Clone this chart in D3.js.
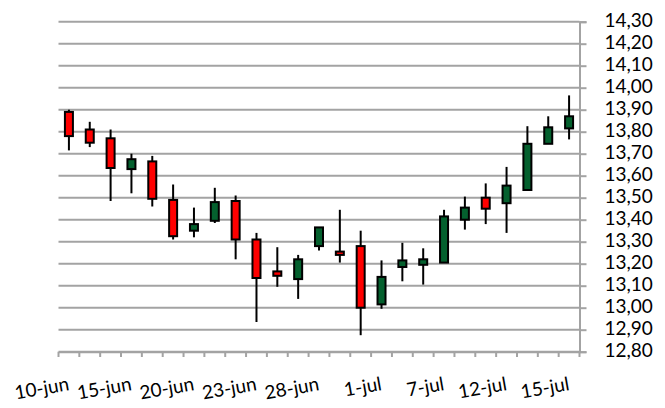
<!DOCTYPE html>
<html>
<head>
<meta charset="utf-8">
<script src="https://cdn.jsdelivr.net/npm/d3@7"></script>
<style>
  html, body { margin: 0; padding: 0; background: #fff; }
  text { font-family: Lato, "Open Sans", sans-serif; fill: #000; }
</style>
</head>
<body>
<div id="chart"></div>
<script>
// Données — cours journaliers (ouverture, haut, bas, clôture)
const jours = ["10-jun","13-jun","14-jun","15-jun","16-jun","17-jun","20-jun","21-jun","22-jun",
  "23-jun","24-jun","27-jun","28-jun","29-jun","30-jun","1-jul","5-jul","6-jul","7-jul",
  "8-jul","11-jul","12-jul","13-jul","14-jul","15-jul"];
const ouverture = [13.89,13.81,13.77,13.63,13.665,13.49,13.35,13.395,13.485,13.31,13.165,13.13,13.28,
  13.255,13.28,13.015,13.185,13.195,13.205,13.40,13.50,13.475,13.535,13.745,13.815];
const haut = [13.90,13.845,13.81,13.70,13.69,13.56,13.455,13.545,13.51,13.34,13.275,13.24,13.365,
  13.445,13.35,13.215,13.295,13.27,13.445,13.505,13.565,13.64,13.825,13.87,13.965];
const bas = [13.715,13.73,13.485,13.52,13.46,13.31,13.32,13.385,13.22,12.935,13.095,13.04,13.26,
  13.205,12.875,12.995,13.12,13.105,13.205,13.355,13.38,13.34,13.535,13.745,13.765];
const cloture = [13.78,13.75,13.635,13.675,13.495,13.325,13.38,13.48,13.31,13.135,13.145,13.22,13.365,
  13.24,13.00,13.14,13.215,13.22,13.415,13.455,13.45,13.555,13.745,13.82,13.87];
const ticksY = [12.8,12.9,13.0,13.1,13.2,13.3,13.4,13.5,13.6,13.7,13.8,13.9,14.0,14.1,14.2,14.3];
const etiquettesX = ["10-jun","15-jun","20-jun","23-jun","28-jun","1-jul","7-jul","12-jul","15-jul"];

const largeur = 665, hauteur = 408;
const GRIS = "#a3a3a3", ROUGE = "#ff0000", VERT = "#04602e";

const svg = d3.select("#chart").append("svg")
    .attr("width", largeur).attr("height", hauteur);

const donnees = jours.map((j, i) => ({ jour: j, o: ouverture[i], h: haut[i], b: bas[i], c: cloture[i] }));

const x = d3.scaleBand().domain(jours).range([58.5, 579.5]).padding(0);
const y = d3.scaleLinear().domain([12.8, 14.3]).range([351.7, 21.7]);

// grille horizontale
svg.append("g").selectAll("line").data(ticksY).join("line")
    .attr("x1", 58.5).attr("x2", 579.5)
    .attr("y1", d => y(d)).attr("y2", d => y(d))
    .attr("stroke", GRIS).attr("stroke-width", 2);

// axe vertical à droite
const axeY = svg.append("g").attr("transform", "translate(579.5,0)")
    .call(d3.axisRight(y).tickValues(ticksY).tickSize(7).tickPadding(18)
        .tickFormat(d => d3.format(".2f")(d).replace(".", ",")));
axeY.select(".domain").attr("stroke", GRIS).attr("stroke-width", 2);
axeY.selectAll(".tick line").attr("stroke", GRIS).attr("stroke-width", 2);
axeY.selectAll(".tick text").attr("font-size", 19).attr("dy", "0.25em")
    .style("font-family", "Lato, sans-serif");

// axe horizontal
const axeX = svg.append("g").attr("transform", "translate(0,351.7)")
    .call(d3.axisBottom(x).tickSize(0).tickFormat(""));
axeX.select(".domain").attr("stroke", GRIS).attr("stroke-width", 2);
svg.append("g").selectAll("line").data(d3.range(jours.length + 1)).join("line")
    .attr("x1", i => 58.5 + i * x.step()).attr("x2", i => 58.5 + i * x.step())
    .attr("y1", 351.7).attr("y2", 357)
    .attr("stroke", GRIS).attr("stroke-width", 2);

// étiquettes de dates, inclinées
svg.append("g").selectAll("text").data(etiquettesX).join("text")
    .attr("transform", d => `translate(${x(d) + x.bandwidth() / 2 + 1},390) rotate(-10)`)
    .attr("text-anchor", "end")
    .attr("font-size", 19)
    .text(d => d);

// chandeliers
const bougies = svg.append("g").selectAll("g").data(donnees).join("g")
    .attr("transform", d => `translate(${x(d.jour) + x.bandwidth() / 2},0)`);

bougies.append("line")
    .attr("y1", d => y(d.h)).attr("y2", d => y(d.b))
    .attr("stroke", "#000").attr("stroke-width", 2);

bougies.append("rect")
    .attr("x", -4).attr("width", 8)
    .attr("y", d => y(Math.max(d.o, d.c)))
    .attr("height", d => Math.max(1.5, Math.abs(y(d.o) - y(d.c))))
    .attr("fill", d => d.c >= d.o ? VERT : ROUGE)
    .attr("stroke", "#000").attr("stroke-width", 2);
</script>
</body>
</html>
